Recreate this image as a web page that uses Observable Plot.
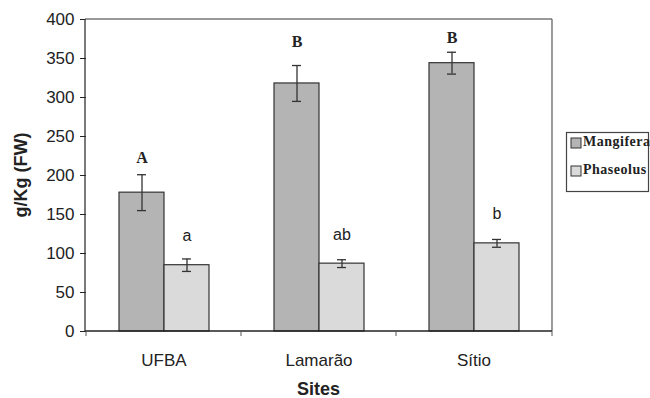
<!DOCTYPE html>
<html>
<head>
<meta charset="utf-8">
<script src="https://cdn.jsdelivr.net/npm/d3@7"></script>
<script src="https://cdn.jsdelivr.net/npm/@observablehq/plot@0.6"></script>
<style>
  body { margin: 0; background: white; }
  #chart { position: relative; width: 650px; height: 398px; }
</style>
</head>
<body>
<div id="chart"></div>
<script>
// ---- data ----
const sites = ["UFBA", "Lamarão", "Sítio"];
const species = ["Mangifera", "Phaseolus"];
const mangifera = [178, 318, 344];
const mangiferaErr = [23, 23, 14];
const phaseolus = [85, 87, 113];
const phaseolusErr = [8, 5, 5];
const mangiferaLetters = ["A", "B", "B"];
const phaseolusLetters = ["a", "ab", "b"];
const mangiferaLetterY = [223, 371, 376];
const phaseolusLetterY = [123, 124, 151];
const yTicks = [0, 50, 100, 150, 200, 250, 300, 350, 400];
const speciesColors = ["#b4b4b4", "#dadada"];
const yLabel = "g/Kg (FW)";
const xLabel = "Sites";

const rows = [];
sites.forEach((s, i) => {
  rows.push({site: s, species: "Mangifera", value: mangifera[i], err: mangiferaErr[i], letter: mangiferaLetters[i], ly: mangiferaLetterY[i]});
  rows.push({site: s, species: "Phaseolus", value: phaseolus[i], err: phaseolusErr[i], letter: phaseolusLetters[i], ly: phaseolusLetterY[i]});
});

const plot = Plot.plot({
  width: 650,
  height: 398,
  marginLeft: 85,
  marginRight: 98,
  marginTop: 19,
  marginBottom: 67,
  style: {fontFamily: "'Liberation Sans', Arial, sans-serif", fontSize: "17px", color: "#222", background: "white"},
  facet: {data: rows, x: "site"},
  fx: {domain: sites, padding: 0, label: null, axis: "bottom", tickSize: 0, tickPadding: 22},
  x: {domain: species, paddingInner: 0, paddingOuter: 0.71, axis: null},
  y: {domain: [0, 400], ticks: yTicks, tickSize: 6, tickPadding: 6, label: null},
  color: {domain: species, range: speciesColors},
  marks: [
    Plot.barY(rows, {x: "species", y: "value", fill: "species", stroke: "#333", strokeWidth: 1.2}),
    Plot.ruleX(rows, {x: "species", y1: d => d.value - d.err, y2: d => d.value + d.err, stroke: "#333", strokeWidth: 1.3}),
    Plot.tickY(rows, {x: "species", y: d => d.value + d.err, stroke: "#333", strokeWidth: 1.3, insetLeft: 18, insetRight: 18}),
    Plot.tickY(rows, {x: "species", y: d => d.value - d.err, stroke: "#333", strokeWidth: 1.3, insetLeft: 18, insetRight: 18}),
    Plot.text(rows, {filter: d => d.species === "Mangifera", x: "species", y: "ly", text: "letter", fontFamily: "'Liberation Serif', 'Times New Roman', serif", fontWeight: "bold", fontSize: 16, fill: "#222"}),
    Plot.text(rows, {filter: d => d.species === "Phaseolus", x: "species", y: "ly", text: "letter", fontFamily: "'Liberation Sans', Arial, sans-serif", fontSize: 16, fill: "#222"})
  ]
});

document.getElementById("chart").appendChild(plot);

// frame, category ticks, axis titles and legend drawn from the plot's scales
const svg = d3.select(plot);
const fxs = plot.scale("fx");
const ys = plot.scale("y");
const [fx0, fx1] = fxs.range;
const yBottom = ys.apply(0), yTop = ys.apply(400);
const g = svg.append("g");
g.append("line").attr("x1", fx0).attr("x2", fx1).attr("y1", yTop).attr("y2", yTop).attr("stroke", "#777").attr("stroke-width", 1.3);
g.append("line").attr("x1", fx1).attr("x2", fx1).attr("y1", yTop).attr("y2", yBottom).attr("stroke", "#666").attr("stroke-width", 1.3);
g.append("line").attr("x1", fx0).attr("x2", fx0).attr("y1", yTop).attr("y2", yBottom).attr("stroke", "#333").attr("stroke-width", 1.3);
g.append("line").attr("x1", fx0).attr("x2", fx1).attr("y1", yBottom).attr("y2", yBottom).attr("stroke", "#222").attr("stroke-width", 1.3);
const bounds = sites.map(s => fxs.apply(s)).concat([fx1]);
bounds.forEach(b => {
  g.append("line").attr("x1", b).attr("x2", b).attr("y1", yBottom).attr("y2", yBottom + 5).attr("stroke", "#555").attr("stroke-width", 1);
});
// axis titles
g.append("text").attr("x", (fx0 + fx1) / 2).attr("y", 390).attr("text-anchor", "middle")
  .attr("dominant-baseline", "middle")
  .style("font-family", "'Liberation Sans', Arial, sans-serif").style("font-size", "18px").style("font-weight", "bold").attr("fill", "#222")
  .text(xLabel);
g.append("text").attr("transform", `translate(22,${(yTop + yBottom) / 2}) rotate(-90)`).attr("text-anchor", "middle")
  .attr("dominant-baseline", "middle")
  .style("font-family", "'Liberation Sans', Arial, sans-serif").style("font-size", "18px").style("font-weight", "bold").attr("fill", "#222")
  .text(yLabel);
// legend
const lg = svg.append("g");
lg.append("rect").attr("x", 566.5).attr("y", 132.5).attr("width", 82).attr("height", 59).attr("fill", "white").attr("stroke", "#444").attr("stroke-width", 1.2);
species.forEach((s, i) => {
  const cy = 143 + i * 28;
  lg.append("rect").attr("x", 571).attr("y", cy - 5).attr("width", 10).attr("height", 10).attr("fill", speciesColors[i]).attr("stroke", "#333").attr("stroke-width", 1);
  lg.append("text").attr("x", 583).attr("y", cy).attr("dominant-baseline", "middle").attr("text-anchor", "start")
    .style("font-family", "'Liberation Serif', 'Times New Roman', serif").style("font-size", "14px").style("font-weight", "bold").style("letter-spacing", "0.5px").attr("fill", "#222")
    .text(s);
});
</script>
</body>
</html>
